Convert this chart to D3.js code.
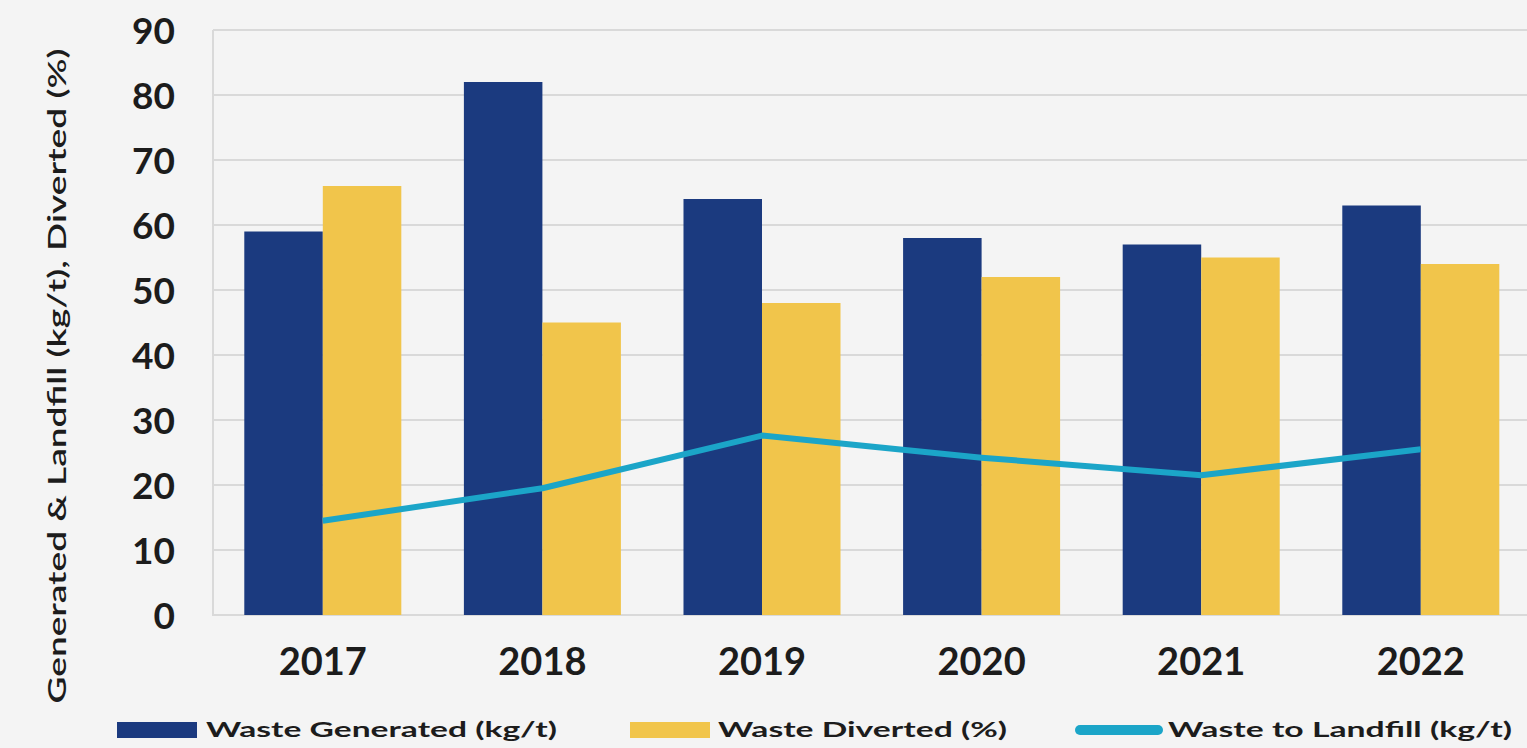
<!DOCTYPE html>
<html>
<head>
<meta charset="utf-8">
<script src="https://cdn.jsdelivr.net/npm/d3@7"></script>
<style>
  html, body { margin: 0; padding: 0; background: #f4f4f4; overflow: hidden; }
  svg { display: block; }
  text { font-family: Lato, "Open Sans", sans-serif; fill: #1c1c1c; }
</style>
</head>
<body>
<svg id="chart" width="1527" height="748"></svg>
<script>
const years = ["2017", "2018", "2019", "2020", "2021", "2022"];
const wasteGenerated = [59, 82, 64, 58, 57, 63];
const wasteDiverted = [66, 45, 48, 52, 55, 54];
const wasteLandfill = [14.5, 19.5, 27.6, 24.2, 21.5, 25.5];
const yTicks = [0, 10, 20, 30, 40, 50, 60, 70, 80, 90];
const seriesNames = ["Waste Generated (kg/t)", "Waste Diverted (%)", "Waste to Landfill (kg/t)"];
const colors = { gen: "#1b3a7f", div: "#f1c54b", land: "#1ba5c8", grid: "#d9d9d9" };

const svg = d3.select("#chart");
const W = 1527, H = 748;
svg.append("rect").attr("width", W).attr("height", H).attr("fill", "#f4f4f4");

const plotLeft = 213, step = 219.6;
const x0 = d3.scaleBand().domain(years)
  .range([plotLeft, plotLeft + step * years.length])
  .paddingInner(0.285).paddingOuter(0.1425);
const x1 = d3.scaleBand().domain(["gen", "div"]).range([0, x0.bandwidth()]);
const y = d3.scaleLinear().domain([0, 90]).range([615, 30]);

// gridlines
svg.append("g").selectAll("line").data(yTicks).join("line")
  .attr("x1", plotLeft).attr("x2", W)
  .attr("y1", d => y(d)).attr("y2", d => y(d))
  .attr("stroke", colors.grid).attr("stroke-width", 2);
svg.append("line").attr("x1", plotLeft).attr("x2", plotLeft)
  .attr("y1", y(90)).attr("y2", y(0) + 1)
  .attr("stroke", colors.grid).attr("stroke-width", 2);

// y axis labels
const yAxis = d3.axisLeft(y).tickValues(yTicks).tickSize(0).tickPadding(0);
const gy = svg.append("g").attr("transform", "translate(175,0)").call(yAxis);
gy.select(".domain").remove();
gy.selectAll("text").attr("font-size", 37).attr("font-weight", 700)
  .attr("font-family", "Lato, sans-serif").attr("fill", "#1c1c1c").attr("dy", "0.36em");

// bars
const groups = svg.append("g").selectAll("g").data(years).join("g")
  .attr("transform", d => `translate(${x0(d)},0)`);
groups.append("rect")
  .attr("x", x1("gen")).attr("width", x1.bandwidth())
  .attr("y", (d, i) => y(wasteGenerated[i]))
  .attr("height", (d, i) => y(0) - y(wasteGenerated[i]))
  .attr("fill", colors.gen);
groups.append("rect")
  .attr("x", x1("div")).attr("width", x1.bandwidth())
  .attr("y", (d, i) => y(wasteDiverted[i]))
  .attr("height", (d, i) => y(0) - y(wasteDiverted[i]))
  .attr("fill", colors.div);

// line
const line = d3.line()
  .x((d, i) => x0(years[i]) + x0.bandwidth() / 2)
  .y(d => y(d));
svg.append("path").datum(wasteLandfill)
  .attr("d", line).attr("fill", "none")
  .attr("stroke", colors.land).attr("stroke-width", 6)
  .attr("stroke-linejoin", "round");

// x axis labels
const xAxis = d3.axisBottom(x0).tickSize(0).tickPadding(0);
const gx = svg.append("g").attr("transform", "translate(0,661)").call(xAxis);
gx.select(".domain").remove();
gx.selectAll("text").attr("font-size", 38).attr("font-weight", 700)
  .attr("font-family", "Lato, sans-serif").attr("fill", "#1c1c1c").attr("dy", "0.36em");

// y title
svg.append("text")
  .attr("transform", "translate(66,376) rotate(-90)")
  .attr("text-anchor", "middle")
  .attr("font-family", "'Open Sans', sans-serif")
  .attr("font-size", 25).attr("font-weight", 600)
  .attr("textLength", 655).attr("lengthAdjust", "spacingAndGlyphs")
  .text("Generated & Landfill (kg/t), Diverted (%)");

// legend
const legFont = "'DejaVu Sans', sans-serif";
const leg = svg.append("g");
leg.append("rect").attr("x", 117).attr("y", 722).attr("width", 80).attr("height", 16).attr("fill", colors.gen);
leg.append("text").attr("x", 206).attr("y", 737).attr("font-family", legFont).attr("font-size", 20).attr("font-weight", 700)
  .attr("textLength", 351).attr("lengthAdjust", "spacingAndGlyphs").text(seriesNames[0]);
leg.append("rect").attr("x", 630).attr("y", 722).attr("width", 80).attr("height", 16).attr("fill", colors.div);
leg.append("text").attr("x", 718).attr("y", 737).attr("font-family", legFont).attr("font-size", 20).attr("font-weight", 700)
  .attr("textLength", 289).attr("lengthAdjust", "spacingAndGlyphs").text(seriesNames[1]);
leg.append("line").attr("x1", 1080).attr("x2", 1158).attr("y1", 730).attr("y2", 730)
  .attr("stroke", colors.land).attr("stroke-width", 10).attr("stroke-linecap", "round");
leg.append("text").attr("x", 1168).attr("y", 737).attr("font-family", legFont).attr("font-size", 20).attr("font-weight", 700)
  .attr("textLength", 344).attr("lengthAdjust", "spacingAndGlyphs").text(seriesNames[2]);
</script>
</body>
</html>
